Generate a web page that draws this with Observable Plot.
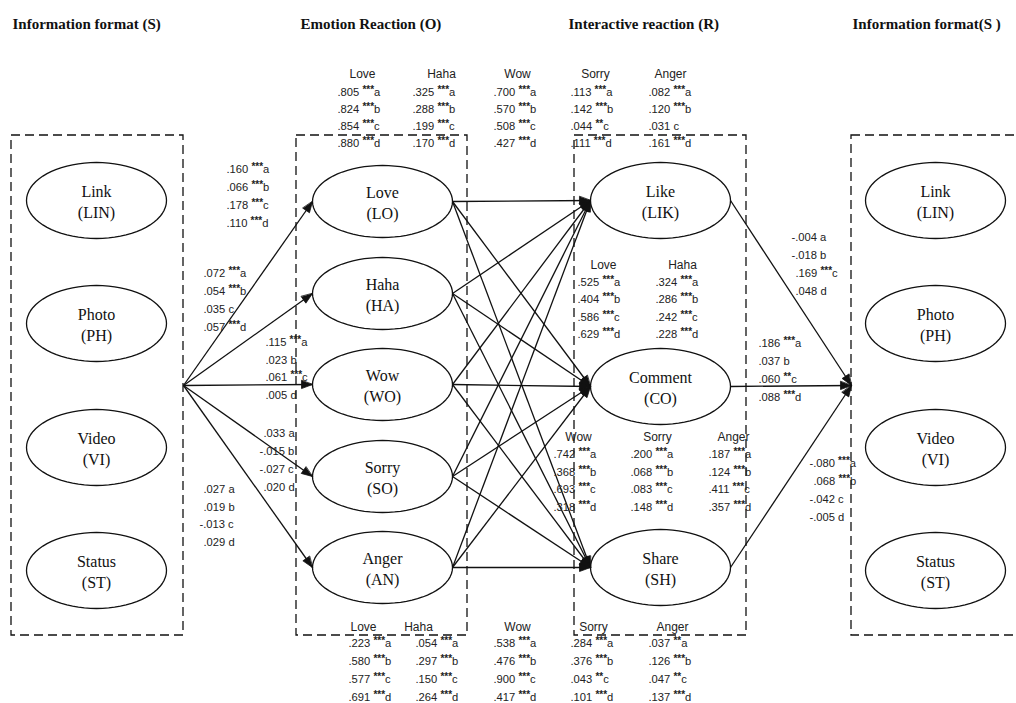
<!DOCTYPE html>
<html>
<head>
<meta charset="utf-8">
<script src="https://cdn.jsdelivr.net/npm/d3@7"></script>
<script src="https://cdn.jsdelivr.net/npm/@observablehq/plot@0.6"></script>
<style>
  html, body { margin: 0; padding: 0; background: #fff; overflow: hidden; }
  #chart svg { display: block; }
  #chart text.serif, #chart text.serif tspan { font-family: "Liberation Serif", "Times New Roman", serif !important; }
</style>
</head>
<body>
<div id="chart"></div>
<script>
// ---------------- DATA ----------------
const titles = ["Information format (S)", "Emotion Reaction (O)", "Interactive reaction (R)", "Information format(S )"];
const formats = ["Link", "Photo", "Video", "Status"];
const formatCodes = ["LIN", "PH", "VI", "ST"];
const emotions = ["Love", "Haha", "Wow", "Sorry", "Anger"];
const emotionCodes = ["LO", "HA", "WO", "SO", "AN"];
const interactions = ["Like", "Comment", "Share"];
const interactionCodes = ["LIK", "CO", "SH"];
const groups = ["a", "b", "c", "d"];

// S -> O path coefficients (a, b, c, d)
const sLove  = [0.160, 0.066, 0.178, 0.110], sLoveSig  = ["***", "***", "***", "***"];
const sHaha  = [0.072, 0.054, 0.035, 0.057], sHahaSig  = ["***", "***", "", "***"];
const sWow   = [0.115, 0.023, 0.061, 0.005], sWowSig   = ["***", "", "***", ""];
const sSorry = [0.033, -0.015, -0.027, 0.020], sSorrySig = ["", "", "", ""];
const sAnger = [0.027, 0.019, -0.013, 0.029], sAngerSig = ["", "", "", ""];

// O -> Like
const likeLove  = [0.805, 0.824, 0.854, 0.880], likeLoveSig  = ["***", "***", "***", "***"];
const likeHaha  = [0.325, 0.288, 0.199, 0.170], likeHahaSig  = ["***", "***", "***", "***"];
const likeWow   = [0.700, 0.570, 0.508, 0.427], likeWowSig   = ["***", "***", "***", "***"];
const likeSorry = [0.113, 0.142, 0.044, 0.111], likeSorrySig = ["***", "***", "**", "***"];
const likeAnger = [0.082, 0.120, 0.031, 0.161], likeAngerSig = ["***", "***", "", "***"];

// O -> Comment
const comLove  = [0.525, 0.404, 0.586, 0.629], comLoveSig  = ["***", "***", "***", "***"];
const comHaha  = [0.324, 0.286, 0.242, 0.228], comHahaSig  = ["***", "***", "***", "***"];
const comWow   = [0.742, 0.368, 0.693, 0.318], comWowSig   = ["***", "***", "***", "***"];
const comSorry = [0.200, 0.068, 0.083, 0.148], comSorrySig = ["***", "***", "***", "***"];
const comAnger = [0.187, 0.124, 0.411, 0.357], comAngerSig = ["***", "***", "***", "***"];

// O -> Share
const shaLove  = [0.223, 0.580, 0.577, 0.691], shaLoveSig  = ["***", "***", "***", "***"];
const shaHaha  = [0.054, 0.297, 0.150, 0.264], shaHahaSig  = ["***", "***", "***", "***"];
const shaWow   = [0.538, 0.476, 0.900, 0.417], shaWowSig   = ["***", "***", "***", "***"];
const shaSorry = [0.284, 0.376, 0.043, 0.101], shaSorrySig = ["***", "***", "**", "***"];
const shaAnger = [0.037, 0.126, 0.047, 0.137], shaAngerSig = ["**", "***", "**", "***"];

// R -> S
const rLike    = [-0.004, -0.018, 0.169, 0.048], rLikeSig    = ["", "", "***", ""];
const rComment = [0.186, 0.037, 0.060, 0.088],   rCommentSig = ["***", "", "**", "***"];
const rShare   = [-0.080, 0.068, -0.042, -0.005], rShareSig  = ["***", "***", "", ""];

// ---------------- LAYOUT ----------------
const W = 1016, H = 703;
const boxTop = 135, boxBottom = 635;
const cols = {
  S:  {x1: 11,  x2: 183,  cx: 96,  rx: 70, ry: 38, ys: [200, 323, 447, 570]},
  O:  {x1: 296, x2: 467,  cx: 382, rx: 70, ry: 36, ys: [201, 293, 384, 476, 567]},
  R:  {x1: 574, x2: 746,  cx: 660, rx: 70, ry: 38, ys: [200, 386, 567]},
  S2: {x1: 851, x2: 1060, cx: 935, rx: 70, ry: 38, ys: [200, 323, 447, 570]}
};
const titleX = [12, 300, 568, 852], titleY = 24;
const srcPt = {x: 183, y: 385}, dstPt = {x: 851, y: 385};

const fmt = v => (v < 0 ? "-" : "") + d3.format(".3f")(Math.abs(v)).replace(/^0\./, ".");
const coefRows = [], coefHeads = [];
function block(vals, sigs, x, y0, dy, head, hx, hy) {
  vals.forEach((v, i) => coefRows.push({
    x: x - (v < 0 ? 4 : 0), y: y0 + i * dy, text: `${fmt(v)} ${sigs[i]}${groups[i]}`
  }));
  if (head) coefHeads.push({x: hx, y: hy, text: head});
}
// S -> O
block(sLove,  sLoveSig,  226, 169, 18);
block(sHaha,  sHahaSig,  203, 273, 18);
block(sWow,   sWowSig,   265, 342, 17.7);
block(sSorry, sSorrySig, 263, 433, 18);
block(sAnger, sAngerSig, 203, 489, 17.7);
// O -> Like (top)
block(likeLove,  likeLoveSig,  337, 92, 17, emotions[0], 362, 74);
block(likeHaha,  likeHahaSig,  412, 92, 17, emotions[1], 441, 74);
block(likeWow,   likeWowSig,   493, 92, 17, emotions[2], 517, 74);
block(likeSorry, likeSorrySig, 570, 92, 17, emotions[3], 595, 74);
block(likeAnger, likeAngerSig, 648, 92, 17, emotions[4], 670, 74);
// O -> Comment (middle)
block(comLove,  comLoveSig,  577, 282, 17.3, emotions[0], 603, 265);
block(comHaha,  comHahaSig,  655, 282, 17.3, emotions[1], 682, 265);
block(comWow,   comWowSig,   553, 454, 17.7, emotions[2], 578, 437);
block(comSorry, comSorrySig, 630, 454, 17.7, emotions[3], 657, 437);
block(comAnger, comAngerSig, 708, 454, 17.7, emotions[4], 733, 437);
// O -> Share (bottom)
block(shaLove,  shaLoveSig,  348, 643, 18, emotions[0], 363, 627);
block(shaHaha,  shaHahaSig,  415, 643, 18, emotions[1], 418, 627);
block(shaWow,   shaWowSig,   493, 643, 18, emotions[2], 517, 627);
block(shaSorry, shaSorrySig, 570, 643, 18, emotions[3], 593, 627);
block(shaAnger, shaAngerSig, 648, 643, 18, emotions[4], 672, 627);
// R -> S
block(rLike,    rLikeSig,    795, 237, 18);
block(rComment, rCommentSig, 758, 343, 18);
block(rShare,   rShareSig,   813, 463, 18);

// boxes
const boxes = Object.values(cols).map(c => ({x1: c.x1, x2: c.x2, y1: boxTop, y2: boxBottom}));

// nodes
const nodes = [];
formats.forEach((n, i) => nodes.push({col: "S", i, label: `${n}\n(${formatCodes[i]})`}));
emotions.forEach((n, i) => nodes.push({col: "O", i, label: `${n}\n(${emotionCodes[i]})`}));
interactions.forEach((n, i) => nodes.push({col: "R", i, label: `${n}\n(${interactionCodes[i]})`}));
formats.forEach((n, i) => nodes.push({col: "S2", i, label: `${n}\n(${formatCodes[i]})`}));
nodes.forEach((d, k) => { const c = cols[d.col]; d.id = k; d.x = c.cx; d.y = c.ys[d.i]; d.rx = c.rx; d.ry = c.ry; });

const ellipsePts = nodes.flatMap(d => d3.range(73).map(j => {
  const t = j / 72 * 2 * Math.PI;
  return {id: d.id, x: d.x + d.rx * Math.cos(t), y: d.y + d.ry * Math.sin(t)};
}));

// links
const links = [];
const O = cols.O, R = cols.R;
O.ys.forEach(y => links.push({x1: srcPt.x, y1: srcPt.y, x2: O.cx - O.rx, y2: y}));
O.ys.forEach(ye => R.ys.forEach(yr => links.push({x1: O.cx + O.rx, y1: ye, x2: R.cx - R.rx, y2: yr})));
R.ys.forEach(y => links.push({x1: R.cx + R.rx, y1: y, x2: dstPt.x, y2: dstPt.y}));

const heads = links.flatMap((l, k) => {
  const dx = l.x2 - l.x1, dy = l.y2 - l.y1, len = Math.hypot(dx, dy);
  const ux = dx / len, uy = dy / len, L = 11, w = 4;
  const bx = l.x2 - ux * L, by = l.y2 - uy * L;
  return [
    {k, x: l.x2, y: l.y2},
    {k, x: bx - uy * w, y: by + ux * w},
    {k, x: bx + uy * w, y: by - ux * w}
  ];
});

const titleData = titles.map((t, i) => ({x: titleX[i], y: titleY, text: t}));

// ---------------- PLOT ----------------
const chart = Plot.plot({
  width: W, height: H, margin: 0,
  x: {domain: [0, W], range: [0, W], axis: null},
  y: {domain: [0, H], range: [0, H], axis: null},
  style: {background: "#fff", overflow: "hidden"},
  marks: [
    Plot.rect(boxes, {x1: "x1", x2: "x2", y1: "y1", y2: "y2", fill: "none", stroke: "#111", strokeWidth: 1.3, strokeDasharray: "9,5"}),
    Plot.link(links, {x1: "x1", y1: "y1", x2: "x2", y2: "y2", stroke: "#111", strokeWidth: 1.3}),
    Plot.line(heads, {x: "x", y: "y", z: "k", curve: "linear-closed", fill: "#111", stroke: "#111", strokeWidth: 0.8}),
    Plot.line(ellipsePts, {x: "x", y: "y", z: "id", curve: "linear-closed", fill: "none", stroke: "#111", strokeWidth: 1.3}),
    Plot.text(nodes, {x: "x", y: "y", text: "label", fontFamily: "Liberation Serif", fontSize: 16, lineHeight: 1.35, fill: "#111"}),
    Plot.text(titleData, {x: "x", y: "y", text: "text", textAnchor: "start", fontFamily: "Liberation Serif", fontWeight: "bold", fontSize: 15, fill: "#111"}),
    Plot.text(coefHeads, {x: "x", y: "y", text: "text", fontFamily: "Liberation Sans", fontSize: 12, fill: "#222"}),
    Plot.text(coefRows, {x: "x", y: "y", text: "text", textAnchor: "start", fontFamily: "Liberation Sans", fontSize: 11.2, fill: "#222"})
  ]
});

// node labels: force serif face
const labelSet = new Set(nodes.map(d => d.label.replace("\n", "")));
chart.querySelectorAll("text").forEach(t => {
  if (labelSet.has((t.textContent || "").trim())) t.setAttribute("class", "serif");
});

// superscript significance stars
const re = /^(-?\.\d+ )(\*+)([abcd])$/;
chart.querySelectorAll("text").forEach(t => {
  const m = (t.textContent || "").match(re);
  if (!m) return;
  while (t.firstChild) t.removeChild(t.firstChild);
  t.appendChild(document.createTextNode(m[1]));
  const s = document.createElementNS("http://www.w3.org/2000/svg", "tspan");
  s.setAttribute("font-size", "10"); s.setAttribute("dy", "-3"); s.setAttribute("font-weight", "bold"); s.textContent = m[2];
  const g = document.createElementNS("http://www.w3.org/2000/svg", "tspan");
  g.setAttribute("dy", "3"); g.textContent = m[3];
  t.appendChild(s); t.appendChild(g);
});

document.getElementById("chart").appendChild(chart);
</script>
</body>
</html>
